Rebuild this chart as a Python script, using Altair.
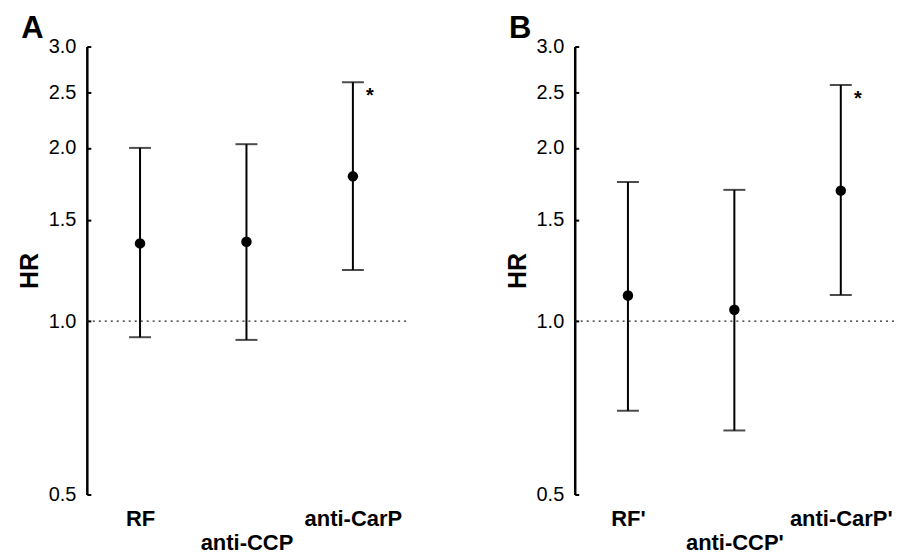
import altair as alt
import pandas as pd

# ---- data ----
cats_a = ["RF", "anti-CCP", "anti-CarP"]
hr_a = [1.365, 1.374, 1.785]
lo_a = [0.938, 0.928, 1.227]
hi_a = [2.00, 2.03, 2.60]
sig_a = ["", "", "*"]

cats_b = ["RF'", "anti-CCP'", "anti-CarP'"]
hr_b = [1.108, 1.047, 1.686]
lo_b = [0.699, 0.646, 1.111]
hi_b = [1.745, 1.691, 2.571]
sig_b = ["", "", "*"]

y_ticks = [0.5, 1.0, 1.5, 2.0, 2.5, 3.0]
ref_value = [1.0]
panel_letters = ["A", "B"]

FONT = "Liberation Sans"
W, H = 320, 449


def panel(cats, hr, lo, hi, sig, letter):
    df = pd.DataFrame({"cat": cats, "hr": hr, "lo": lo, "hi": hi, "sig": sig})
    yscale = alt.Scale(type="log", domain=[0.5, 3.0], nice=False, zero=False)
    xaxis = alt.Axis(
        title=None, labelAngle=0, domain=False, ticks=False, grid=False,
        labelPadding=14, labelFont=FONT, labelFontSize=22, labelFontWeight="bold",
        labelColor="black", labelLineHeight=24,
        labelExpr="indexof(datum.label, 'CCP') >= 0 ? ['', datum.label] : datum.label",
    )
    xenc = alt.X("cat:N", sort=cats, scale=alt.Scale(type="point", padding=0.5), axis=xaxis)

    left_axis = alt.Axis(
        values=y_ticks, format=".1f", title="HR", grid=False, ticks=False,
        domainColor="black", domainWidth=2.5, labelFont=FONT, labelFontSize=20,
        labelColor="black", labelPadding=11, titleFont=FONT, titleFontSize=25,
        titleFontWeight="bold", titleColor="black", titlePadding=6,
    )
    right_axis = alt.Axis(
        orient="right", offset=-W, values=y_ticks, labels=False, domain=False,
        grid=False, title=None, ticks=True, tickSize=4, tickWidth=2, tickColor="black",
    )

    base = alt.Chart(df)

    refline = alt.Chart(pd.DataFrame({"v": ref_value})).mark_rule(
        strokeDash=[2, 4], color="#222222", strokeWidth=1.3
    ).encode(y=alt.Y("v:Q", scale=yscale, axis=None))

    bars = base.mark_rule(color="black", strokeWidth=2).encode(
        x=xenc,
        y=alt.Y("lo:Q", scale=yscale, axis=right_axis),
        y2="hi:Q",
    )
    cap_lo = base.mark_tick(color="black", size=22, thickness=2).encode(
        x=xenc, y=alt.Y("lo:Q", scale=yscale, axis=None)
    )
    cap_hi = base.mark_tick(color="black", size=22, thickness=2).encode(
        x=xenc, y=alt.Y("hi:Q", scale=yscale, axis=None)
    )
    pts = base.mark_circle(color="black", size=110, opacity=1).encode(
        x=xenc, y=alt.Y("hr:Q", scale=yscale, axis=left_axis)
    )
    stars = base.mark_text(
        font=FONT, fontSize=20, fontWeight="bold", color="black",
        dx=17, dy=20, baseline="alphabetic", align="center",
    ).encode(x=xenc, y=alt.Y("hi:Q", scale=yscale, axis=None), text="sig:N")

    return alt.layer(pts, bars, refline, cap_lo, cap_hi, stars).resolve_axis(
        y="independent"
    ).properties(
        width=W, height=H,
        title=alt.TitleParams(
            letter, anchor="start", frame="bounds", font=FONT, fontSize=31,
            fontWeight="bold", color="black", offset=-8, dx=4,
        ),
    )


pa = panel(cats_a, hr_a, lo_a, hi_a, sig_a, panel_letters[0])
pb = panel(cats_b, hr_b, lo_b, hi_b, sig_b, panel_letters[1])

chart = alt.hconcat(pa, pb, spacing=98).configure_view(stroke=None).properties(
    padding={"left": 9, "top": 4, "right": 0, "bottom": 0}
)

chart.save("out.html", embed_options={"renderer": "svg", "actions": False})
